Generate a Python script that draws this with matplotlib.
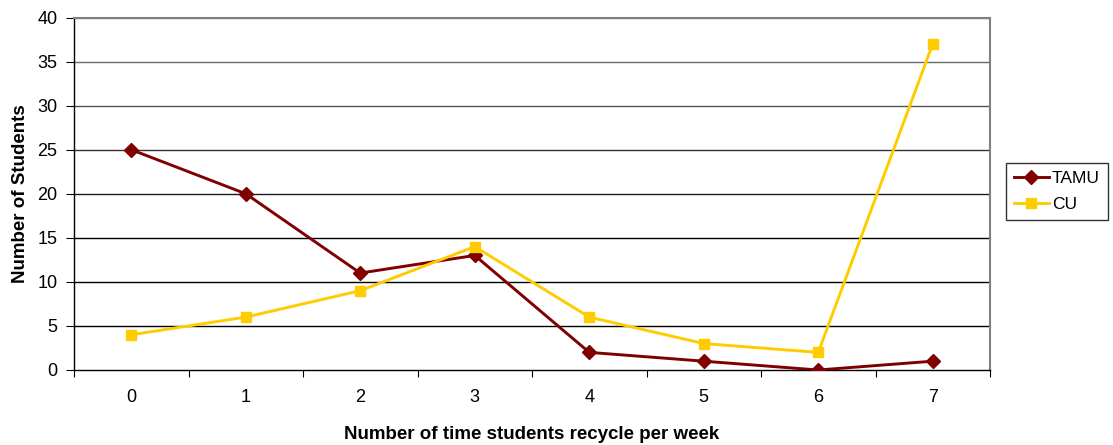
import matplotlib
matplotlib.use("Agg")
import matplotlib.pyplot as plt

categories = [0, 1, 2, 3, 4, 5, 6, 7]
tamu = [25, 20, 11, 13, 2, 1, 0, 1]
cu = [4, 6, 9, 14, 6, 3, 2, 37]
y_ticks = [0, 5, 10, 15, 20, 25, 30, 35, 40]

plt.rcParams["font.family"] = ["Liberation Sans", "DejaVu Sans"]

fig = plt.figure(figsize=(11.13, 4.45), dpi=100)
ax = fig.add_axes([74 / 1113, 75 / 445, (990 - 74) / 1113, (370 - 17.5) / 445])

grid_colors = ["#000000", "#000000", "#000000", "#1a1a1a", "#333333",
               "#555555", "#6a6a6a", "#808080"]
for y, c in zip(y_ticks[1:], grid_colors):
    ax.axhline(y, color=c, lw=1.0, zorder=1)

x = list(range(len(categories)))
ax.plot(x, tamu, color="#800000", lw=2.1, marker="D", ms=7, label="TAMU", zorder=3)
ax.plot(x, cu, color="#FFCC00", lw=2.1, marker="s", ms=6.5, label="CU", zorder=3)

ax.set_xlim(-0.5, len(categories) - 0.5)
ax.set_ylim(0, 40)
ax.set_yticks(y_ticks)
ax.set_yticklabels([str(v) for v in y_ticks], fontsize=13)

ax.set_xticks([i - 0.5 for i in range(len(categories) + 1)])
ax.set_xticklabels([])
ax.set_xticks(x, minor=True)
ax.set_xticklabels([str(c) for c in categories], minor=True, fontsize=13)
ax.tick_params(axis="x", which="minor", length=0, pad=14)
ax.tick_params(axis="x", which="major", length=5, direction="out", color="black")
ax.tick_params(axis="y", length=6, direction="out", color="black", pad=6)

for side in ("top", "right"):
    ax.spines[side].set_color("#808080")
    ax.spines[side].set_linewidth(1.5)
for side in ("left", "bottom"):
    ax.spines[side].set_color("black")
    ax.spines[side].set_linewidth(1.0)

ax.set_xlabel("Number of time students recycle per week", fontsize=13.5,
              fontweight="bold", labelpad=14)
ax.set_ylabel("Number of Students", fontsize=13.5, fontweight="bold", labelpad=6)

leg = fig.legend(loc="upper left", bbox_to_anchor=(1006 / 1113, 1 - 163 / 445),
                 fontsize=12.5, frameon=True, fancybox=False, handlelength=2.0,
                 handletextpad=0.2, borderpad=0.45, borderaxespad=0,
                 labelspacing=0.65)
leg.get_frame().set_edgecolor("black")
leg.get_frame().set_linewidth(1.0)

fig.savefig("out.png", dpi=100)
